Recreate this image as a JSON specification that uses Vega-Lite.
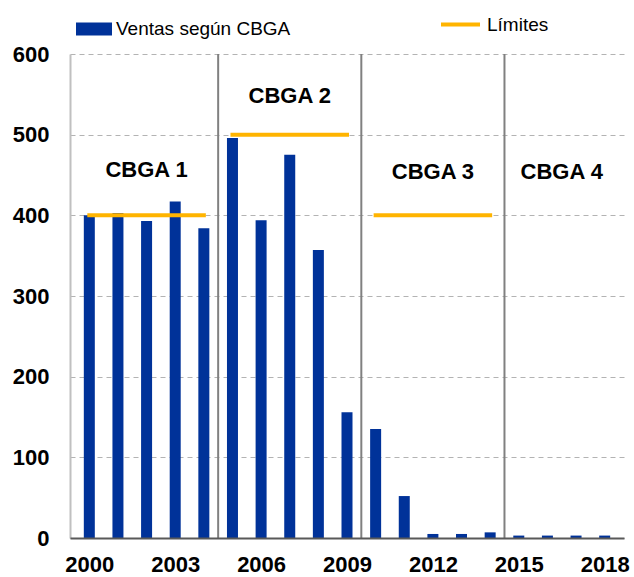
{
  "$schema": "https://vega.github.io/schema/vega-lite/v6.json",
  "width": 554,
  "height": 484,
  "autosize": {"type": "none"},
  "padding": {"left": 70, "top": 54, "right": 10, "bottom": 39},
  "background": "white",
  "config": {
    "view": {"stroke": null},
    "font": "Liberation Sans",
    "axis": {"labelFont": "Liberation Sans", "labelFontWeight": "bold", "labelFontSize": 22, "labelColor": "#000000", "ticks": false, "title": null, "labelFlush": false, "labelOverlap": false},
    "legend": {"labelFont": "Liberation Sans", "labelFontSize": 19, "labelColor": "#000000", "padding": 0, "title": null, "labelLimit": 400}
  },
  "datasets": {
    "ventas": [
      {"year": 2000, "value": 400},
      {"year": 2001, "value": 403},
      {"year": 2002, "value": 393},
      {"year": 2003, "value": 417},
      {"year": 2004, "value": 384},
      {"year": 2005, "value": 496},
      {"year": 2006, "value": 394},
      {"year": 2007, "value": 475},
      {"year": 2008, "value": 357},
      {"year": 2009, "value": 156},
      {"year": 2010, "value": 135},
      {"year": 2011, "value": 52},
      {"year": 2012, "value": 5},
      {"year": 2013, "value": 5},
      {"year": 2014, "value": 7},
      {"year": 2015, "value": 3},
      {"year": 2016, "value": 3},
      {"year": 2017, "value": 3},
      {"year": 2018, "value": 3}
    ],
    "limites": [
      {"start": 2000, "end": 2004, "limit": 400},
      {"start": 2005, "end": 2009, "limit": 500},
      {"start": 2010, "end": 2014, "limit": 400}
    ],
    "divisiones": [
      {"pos": 2004.5, "lo": 0, "hi": 600},
      {"pos": 2009.5, "lo": 0, "hi": 600},
      {"pos": 2014.5, "lo": 0, "hi": 600}
    ],
    "etiquetas": [
      {"pos": 2002, "y": 456, "label": "CBGA 1"},
      {"pos": 2007, "y": 548, "label": "CBGA 2"},
      {"pos": 2012, "y": 454, "label": "CBGA 3"},
      {"pos": 2016.5, "y": 454, "label": "CBGA 4"}
    ]
  },
  "layer": [
    {
      "data": {"name": "ventas"},
      "mark": {"type": "bar", "width": 11},
      "encoding": {
        "x": {
          "field": "year", "type": "quantitative",
          "scale": {"domain": [1999.5, 2018.5], "nice": false, "zero": false},
          "axis": {"values": [2000, 2003, 2006, 2009, 2012, 2015, 2018], "format": "d", "grid": false, "domainColor": "#595959", "domainWidth": 2, "labelPadding": 16, "zindex": 1}
        },
        "y": {
          "field": "value", "type": "quantitative",
          "scale": {"domain": [0, 600], "nice": false},
          "axis": {"values": [0, 100, 200, 300, 400, 500, 600], "grid": true, "gridColor": "#b3b3b3", "gridDash": [5, 4], "gridWidth": 1, "domainColor": "#c0c0c0", "domainWidth": 2, "labelPadding": 21}
        },
        "fill": {
          "datum": "Ventas según CBGA", "type": "nominal",
          "scale": {"range": ["#003299"]},
          "legend": {"orient": "none", "legendX": 6, "legendY": -43, "symbolType": "M-1,-0.36H1V0.36H-1Z", "symbolSize": 1296, "symbolStrokeWidth": 0, "labelOffset": 4}
        }
      }
    },
    {
      "data": {"name": "divisiones"},
      "mark": {"type": "rule", "color": "#808080", "strokeWidth": 2},
      "encoding": {
        "x": {"field": "pos", "type": "quantitative"},
        "y": {"field": "lo", "type": "quantitative"},
        "y2": {"field": "hi"}
      }
    },
    {
      "data": {"name": "limites"},
      "mark": {"type": "rule", "strokeWidth": 4, "strokeCap": "square"},
      "encoding": {
        "x": {"field": "start", "type": "quantitative"},
        "x2": {"field": "end"},
        "y": {"field": "limit", "type": "quantitative"},
        "stroke": {
          "datum": "Límites", "type": "nominal",
          "scale": {"range": ["#FFB400"]},
          "legend": {"orient": "none", "legendX": 369, "legendY": -51, "symbolType": "stroke", "symbolSize": 1521, "symbolStrokeWidth": 4, "labelOffset": 5}
        }
      }
    },
    {
      "data": {"name": "etiquetas"},
      "mark": {"type": "text", "font": "Liberation Sans", "fontWeight": "bold", "fontSize": 22, "color": "#000000", "align": "center", "baseline": "middle"},
      "encoding": {
        "x": {"field": "pos", "type": "quantitative"},
        "y": {"field": "y", "type": "quantitative"},
        "text": {"field": "label"}
      }
    }
  ]
}
